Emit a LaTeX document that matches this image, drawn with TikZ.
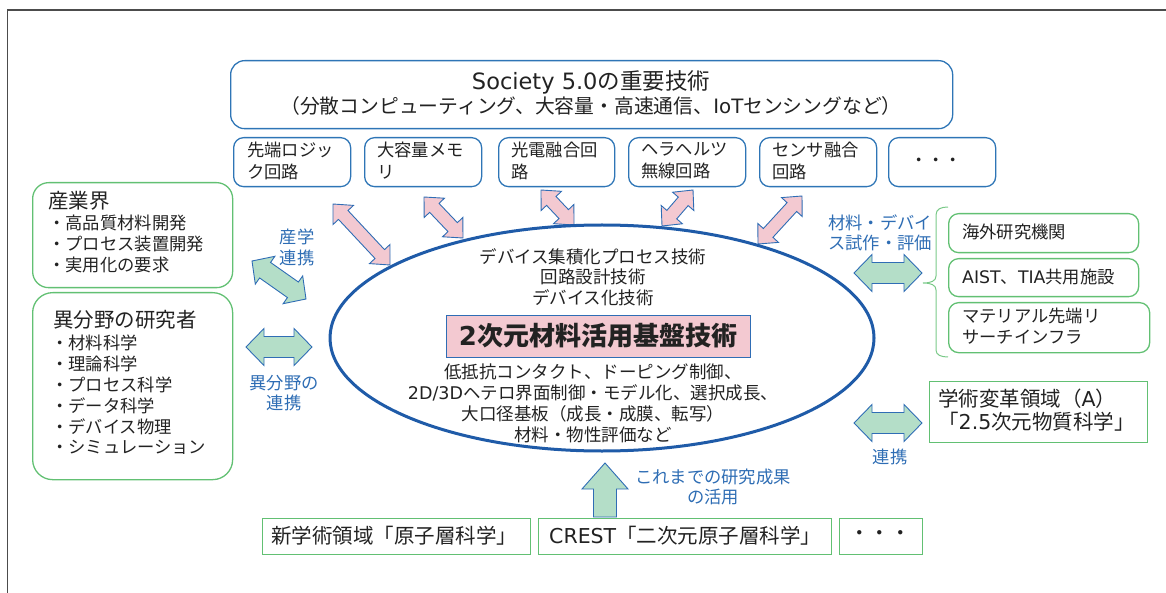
\documentclass[tikz,border=0pt]{standalone}
\usepackage{fontspec}
\setmainfont{Noto Sans CJK JP}
\newfontfamily\lat{DejaVu Sans}
\usetikzlibrary{calc,shapes.geometric}
\definecolor{bbox}{HTML}{2E75B6}
\definecolor{gbox}{HTML}{62C073}
\definecolor{lblue}{HTML}{2E6DB4}
\definecolor{mint}{HTML}{B4DEC8}
\definecolor{pinkf}{HTML}{F3C9D1}
\definecolor{arrb}{HTML}{2F6DB5}
\definecolor{ellc}{HTML}{1F5BA8}
\definecolor{txt}{HTML}{222222}
\newcommand\fsz[2]{\fontsize{#1}{#2}\selectfont}
% double block arrow: start, end, shaft half, head half, head length, style
\newcommand\dblarr[6]{%
  \coordinate (dA) at ($(#1)!#5!(#2)$);
  \coordinate (dB) at ($(#2)!#5!(#1)$);
  \draw[#6] (#1) -- ($(dA)!#4!90:(#2)$) -- ($(dA)!#3!90:(#2)$) -- ($(dB)!#3!-90:(#1)$) -- ($(dB)!#4!-90:(#1)$) -- (#2) -- ($(dB)!#4!90:(#1)$) -- ($(dB)!#3!90:(#1)$) -- ($(dA)!#3!-90:(#2)$) -- ($(dA)!#4!-90:(#2)$) -- cycle;}
% single block arrow: tail, tip, shaft half, head half, head length, style
\newcommand\sglarr[6]{%
  \coordinate (sH) at ($(#2)!#5!(#1)$);
  \draw[#6] (#2) -- ($(sH)!#4!90:(#1)$) -- ($(sH)!#3!90:(#1)$) -- ($(#1)!#3!-90:(#2)$) -- ($(#1)!#3!90:(#2)$) -- ($(sH)!#3!-90:(#1)$) -- ($(sH)!#4!-90:(#1)$) -- cycle;}
\begin{document}
\begin{tikzpicture}[x=1pt,y=-1pt,
  bluebox/.style={draw=bbox, line width=1.3pt, rounded corners=10pt, inner sep=0pt, anchor=north west},
  greenbox/.style={draw=gbox, line width=1.3pt, rounded corners=16pt, inner sep=0pt, anchor=north west},
  greenrect/.style={draw=gbox, line width=1.3pt, inner sep=0pt, anchor=north west},
  tl/.style={anchor=west, inner sep=0pt, text=txt, align=left},
  tc/.style={anchor=center, inner sep=0pt, text=txt, align=center},
  bl/.style={inner sep=0pt, text=lblue, align=center, font=\fsz{17.3}{20.5}},
  pinkarr/.style={draw=arrb, fill=pinkf, line width=0.9pt},
  mintarr/.style={draw=arrb, fill=mint, line width=0.9pt},
]
\useasboundingbox (0,0) rectangle (1166,593);
% frame
\draw[color=black!70, line width=1.5pt] (7.5,593) -- (7.5,10) -- (1166,10);

% Society box
\node[bluebox, rounded corners=14pt, minimum width=722pt, minimum height=68pt] (soc) at (230,60) {};
\node[tc, font=\fsz{22.5}{26}] (soct1) at (591,82) {{\lat Society 5.0}の重要技術};
\node[tc, font=\fsz{19.8}{24}] (soct2) at (591,106) {（分散コンピューティング、大容量・高速通信、{\lat IoT}センシングなど）};

% small boxes
\node[bluebox, minimum width=117pt, minimum height=49pt] (b1) at (233,137) {};
\node[bluebox, minimum width=117pt, minimum height=49pt] (b2) at (364,137) {};
\node[bluebox, minimum width=116pt, minimum height=49pt] (b3) at (498,137) {};
\node[bluebox, minimum width=117pt, minimum height=49pt] (b4) at (628,137) {};
\node[bluebox, minimum width=117pt, minimum height=49pt] (b5) at (759,137) {};
\node[bluebox, minimum width=107pt, minimum height=49pt] (b6) at (888,137) {};
\begin{scope}[every node/.append style={font=\fsz{17.3}{22}}]
\node[tl] (b1t) at (247,161) {先端ロジッ\\ク回路};
\node[tl] (b2t) at (377,161) {大容量メモ\\リ};
\node[tl] (b3t) at (511,161) {光電融合回\\路};
\node[tl] (b4t) at (641,161) {ヘラヘルツ\\無線回路};
\node[tl] (b5t) at (772,161) {センサ融合\\回路};
\node[tc] (b6t) at (936,162) {・・・};
\end{scope}

% pink arrows
\coordinate (p1a) at (333,204); \coordinate (p1b) at (390,265);
\coordinate (p2a) at (424,197); \coordinate (p2b) at (463,238);
\coordinate (p3a) at (541,190); \coordinate (p3b) at (574,225);
\coordinate (p4a) at (693,190); \coordinate (p4b) at (662,226);
\coordinate (p5a) at (802,196); \coordinate (p5b) at (758,244);
\dblarr{p1a}{p1b}{6.5pt}{14pt}{15pt}{pinkarr}
\dblarr{p2a}{p2b}{6.5pt}{14pt}{15pt}{pinkarr}
\dblarr{p3a}{p3b}{6.5pt}{14pt}{15pt}{pinkarr}
\dblarr{p4a}{p4b}{6.5pt}{14pt}{15pt}{pinkarr}
\dblarr{p5a}{p5b}{6.5pt}{14pt}{15pt}{pinkarr}

% core ellipse
\node[draw=ellc, line width=3pt, ellipse, minimum width=544pt, minimum height=226pt, inner sep=0pt] (core) at (602,338) {};
\node[tc, font=\fsz{17.5}{20.5}] (coreup) at (593,277) {デバイス集積化プロセス技術\\回路設計技術\\デバイス化技術};
\node[draw=arrb, fill=pinkf, line width=0.8pt, minimum width=304pt, minimum height=42pt, inner sep=0pt, text=txt] (title) at (598,336) {\bfseries\fsz{26}{30}{\lat 2}次元材料活用基盤技術};
\node[tc, font=\fsz{17.5}{21}] (coredn) at (593,403.5) {低抵抗コンタクト、ドーピング制御、\\{\lat 2D/3D}ヘテロ界面制御・モデル化、選択成長、\\大口径基板（成長・成膜、転写）\\材料・物性評価など};

% left boxes
\node[greenbox, minimum width=200pt, minimum height=105pt] (ind) at (32,182) {};
\node[tl, font=\fsz{20.5}{24}] (indh) at (48,201) {産業界};
\node[tl, font=\fsz{17.3}{21}] (indt) at (48,244) {・高品質材料開発\\・プロセス装置開発\\・実用化の要求};
\node[greenbox, rounded corners=20pt, minimum width=200pt, minimum height=187pt] (res) at (32,292) {};
\node[tl, font=\fsz{20.5}{24}] (resh) at (53,320) {異分野の研究者};
\node[tl, font=\fsz{17.3}{20.8}] (rest) at (51,395) {・材料科学\\・理論科学\\・プロセス科学\\・データ科学\\・デバイス物理\\・シミュレーション};

% left arrows and labels
\coordinate (g1a) at (252,261); \coordinate (g1b) at (306,299);
\dblarr{g1a}{g1b}{9.5pt}{17pt}{16pt}{mintarr}
\coordinate (g2a) at (246,347); \coordinate (g2b) at (312,347);
\dblarr{g2a}{g2b}{10.5pt}{18.5pt}{18pt}{mintarr}
\node[bl] (lab1) at (297,247.5) {産学\\連携};
\node[bl] (lab2) at (284,393) {異分野の\\連携};

% right side
\node[bl, anchor=west, align=left] (lab3) at (828,233) {材料・デバイ\\ス試作・評価};
\coordinate (g3a) at (854,273); \coordinate (g3b) at (922,273);
\dblarr{g3a}{g3b}{10.5pt}{18.5pt}{18pt}{mintarr}
\draw[gbox!85, line width=1pt] (948,207) .. controls (941,207) and (936,209) .. (936,215) -- (936,276) .. controls (936,281) and (931,283) .. (923,283) .. controls (931,283) and (936,285) .. (936,290) -- (936,350) .. controls (936,355) and (941,357) .. (948,357);
\node[greenbox, rounded corners=10pt, minimum width=190pt, minimum height=39pt] (r1) at (948,213) {};
\node[greenbox, rounded corners=10pt, minimum width=190pt, minimum height=38pt] (r2) at (948,258) {};
\node[greenbox, rounded corners=10pt, minimum width=201pt, minimum height=50pt] (r3) at (948,302) {};
\node[tl, font=\fsz{17.3}{20.5}] (r1t) at (962,232) {海外研究機関};
\node[tl, font=\fsz{17.3}{20.5}] (r2t) at (962,277) {{\lat AIST}、{\lat TIA}共用施設};
\node[tl, font=\fsz{17.3}{20.5}] (r3t) at (962,326) {マテリアル先端リ\\サーチインフラ};
\node[greenrect, minimum width=218pt, minimum height=61pt] (r4) at (929,381) {};
\node[tl, font=\fsz{20.5}{22.5}] (r4t) at (938,410) {学術変革領域（{\lat A}）\\「{\lat 2.5}次元物質科学」};
\coordinate (g4a) at (854,423); \coordinate (g4b) at (922,423);
\dblarr{g4a}{g4b}{10.5pt}{18.5pt}{18pt}{mintarr}
\node[bl] (lab4) at (890,457) {連携};

% bottom
\node[greenrect, minimum width=268pt, minimum height=36pt] (k1) at (262,518) {};
\node[greenrect, minimum width=293pt, minimum height=36pt] (k2) at (538,518) {};
\node[greenrect, minimum width=83pt, minimum height=36pt] (k3) at (839,518) {};
\node[tl, font=\fsz{20.5}{24}] (k1t) at (271,536) {新学術領域「原子層科学」};
\node[tl, font=\fsz{20.5}{24}] (k2t) at (549,536) {{\lat CREST}「二次元原子層科学」};
\node[tc, font=\fsz{20.5}{24}] (k3t) at (880,536) {・・・};
\coordinate (upa) at (605,517); \coordinate (upb) at (605,463);
\sglarr{upa}{upb}{11.5pt}{23pt}{26pt}{mintarr}
\node[bl] (lab5) at (713,487) {これまでの研究成果\\の活用};
\end{tikzpicture}
\end{document}
